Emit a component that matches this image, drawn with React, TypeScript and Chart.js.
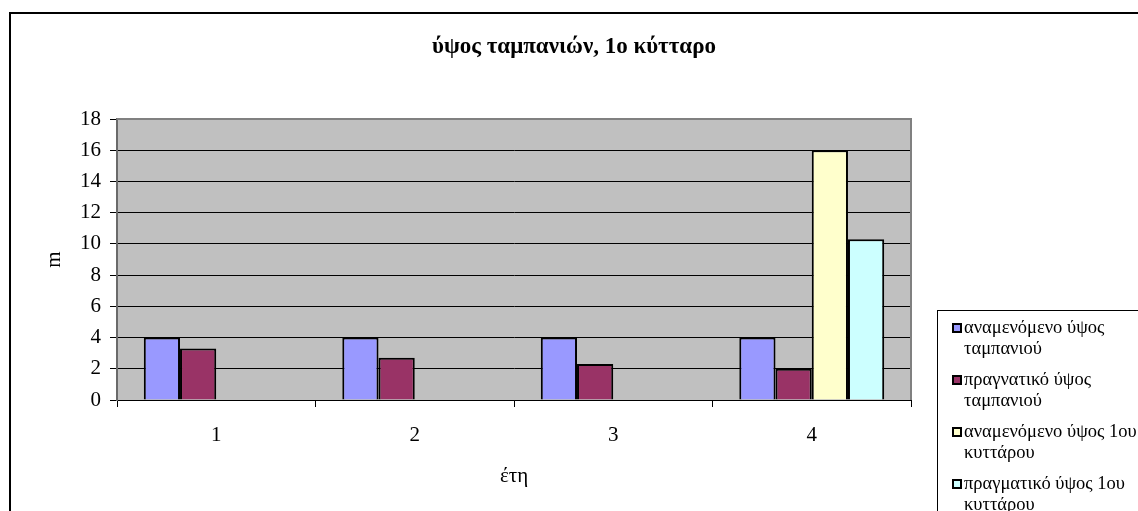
import React, { useEffect, useRef } from "react";
import { Chart, registerables } from "chart.js";

Chart.register(...registerables);

// ---- data ----
const categories = ["1", "2", "3", "4"];
const expectedTampani = [4, 4, 4, 4];
const actualTampani = [3.3, 2.7, 2.3, 2.0];
const expectedCell1 = [null, null, null, 16];
const actualCell1 = [null, null, null, 10.3];
const seriesNames = [
  ["αναμενόμενο ύψος", "ταμπανιού"],
  ["πραγνατικό ύψος", "ταμπανιού"],
  ["αναμενόμενο ύψος 1ου", "κυττάρου"],
  ["πραγματικό ύψος 1ου", "κυττάρου"],
];
const seriesData = [expectedTampani, actualTampani, expectedCell1, actualCell1];
const seriesColors = ["#9999FF", "#993366", "#FFFFCC", "#CCFFFF"];
const chartTitle = "ύψος ταμπανιών, 1ο κύτταρο";
const xAxisTitle = "έτη";
const yAxisTitle = "m";
const yMin = 0;
const yMax = 18;
const yStep = 2;

const FAMILY = "'Liberation Serif', 'Times New Roman', serif";

const framePlugin = {
  id: "framePlugin",
  beforeDraw(chart: any) {
    const { ctx, chartArea } = chart;
    ctx.save();
    ctx.fillStyle = "#ffffff";
    ctx.fillRect(0, 0, chart.width, chart.height);
    ctx.fillStyle = "#C0C0C0";
    ctx.fillRect(chartArea.left, chartArea.top, chartArea.right - chartArea.left, chartArea.bottom - chartArea.top);
    ctx.restore();
  },
  afterDatasetsDraw(chart: any) {
    const { ctx, chartArea } = chart;
    ctx.save();
    ctx.strokeStyle = "#808080";
    ctx.lineWidth = 2;
    ctx.beginPath();
    ctx.moveTo(chartArea.left, chartArea.top);
    ctx.lineTo(chartArea.right, chartArea.top);
    ctx.lineTo(chartArea.right, chartArea.bottom);
    ctx.stroke();
    ctx.restore();
  },
  afterDraw(chart: any) {
    const { ctx } = chart;
    ctx.save();
    // outer frame
    ctx.strokeStyle = "#000";
    ctx.lineWidth = 2;
    ctx.strokeRect(10, 13, 1200, 600);
    // title
    ctx.fillStyle = "#000";
    ctx.font = `bold 23px ${FAMILY}`;
    ctx.textAlign = "center";
    ctx.textBaseline = "middle";
    ctx.fillText(chartTitle, 574, 47);
    // legend
    ctx.lineWidth = 1;
    ctx.strokeRect(937.5, 310.5, 300, 300);
    ctx.font = `18.5px ${FAMILY}`;
    ctx.textAlign = "left";
    seriesNames.forEach((lines, i) => {
      const y0 = 328 + i * 52;
      ctx.fillStyle = seriesColors[i];
      ctx.fillRect(952, y0 - 5, 10, 10);
      ctx.lineWidth = 2;
      ctx.strokeStyle = "#000";
      ctx.strokeRect(953, y0 - 4, 8, 8);
      ctx.fillStyle = "#000";
      lines.forEach((t, j) => ctx.fillText(t, 964, y0 + j * 21));
    });
    ctx.restore();
  },
};

export default function App() {
  const ref = useRef<HTMLCanvasElement>(null);
  useEffect(() => {
    const canvas = ref.current!;
    const font = { family: FAMILY, size: 21 };
    const chart = new Chart(canvas, {
      type: "bar",
      data: {
        labels: categories,
        datasets: seriesData.map((d, i) => ({
          label: seriesNames[i].join(" "),
          data: d,
          backgroundColor: seriesColors[i],
          borderColor: "#000",
          borderWidth: 2,
          categoryPercentage: 0.73,
          barPercentage: 1,
        })),
      },
      options: {
        responsive: false,
        animation: false,
        layout: { padding: { left: 42, top: 119, right: 227, bottom: 11 } },
        plugins: {
          legend: { display: false },
          title: { display: false },
          tooltip: { enabled: false },
        },
        scales: {
          x: {
            afterFit: (s: any) => {
              s.height = 100;
            },
            grid: {
              display: true,
              drawOnChartArea: false,
              drawTicks: true,
              tickLength: 7,
              color: "#000",
              offset: true,
            },
            border: { display: true, color: "#000", width: 1 },
            ticks: { font, color: "#000", padding: 16 },
            title: {
              display: true,
              text: xAxisTitle,
              font,
              color: "#000",
              padding: { top: 0, bottom: 11 },
            },
          },
          y: {
            min: yMin,
            max: yMax,
            afterFit: (s: any) => {
              s.width = 75;
            },
            grid: { color: "#000", lineWidth: 1, tickLength: 7, drawTicks: true },
            border: { display: true, color: "#6a6a6a", width: 2 },
            ticks: { stepSize: yStep, font, color: "#000", padding: 9 },
            title: {
              display: true,
              text: yAxisTitle,
              font,
              color: "#000",
              padding: { top: 0, bottom: 0 },
            },
          },
        },
      },
      plugins: [framePlugin],
    } as any);
    return () => chart.destroy();
  }, []);
  return (
    <div style={{ position: "fixed", left: 0, top: 0, width: 1138, height: 511, background: "#fff" }}>
      <canvas ref={ref} width={1138} height={511} style={{ display: "block", width: 1138, height: 511 }} />
    </div>
  );
}
